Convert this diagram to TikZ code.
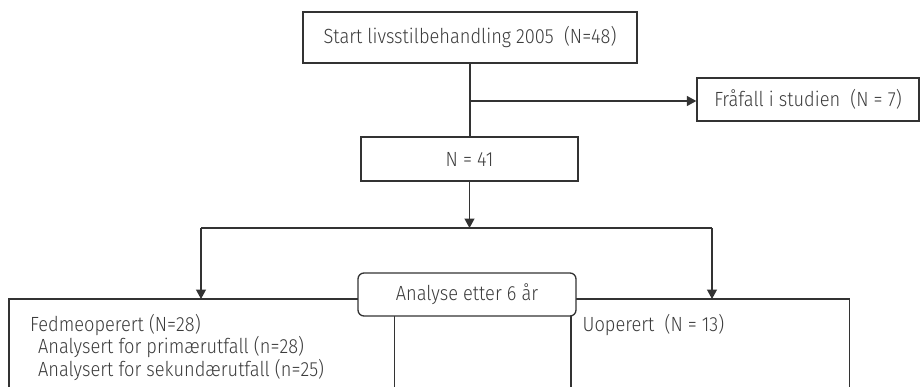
\documentclass[tikz,border=0pt]{standalone}
\usepackage{fontspec}
\setmainfont{Fira Sans Light}[FakeStretch=0.89]
\usetikzlibrary{arrows.meta}
\definecolor{ink}{HTML}{333333}
\definecolor{txt}{HTML}{3C3C3C}
\begin{document}
\begin{tikzpicture}[x=1pt,y=-1pt,
  line width=1.3pt, draw=ink,
  box/.style={draw=ink, line width=1.3pt, inner sep=0pt, text=txt, font=\fontsize{20.5}{24}\selectfont},
  frame/.style={draw=none, inner sep=0pt, anchor=north west},
  lbl/.style={inner sep=0pt, anchor=base west, text=txt, font=\fontsize{20.5}{24}\selectfont},
  arr/.style={draw=ink, line width=1.3pt, -{Triangle[length=9.5pt,width=10pt]}}]
\useasboundingbox (0,0) rectangle (922,386);
\fill[white] (0,0) rectangle (922,386);
% top boxes
\node[box, minimum width=334pt, minimum height=51pt] (start) at (470,37.5) {Start livsstilbehandling 2005\ \ (N=48)};
\node[box, minimum width=222pt, minimum height=43pt] (fra) at (808,99.5) {Fråfall i studien\ \ (N = 7)};
\node[box, minimum width=217pt, minimum height=44pt] (n41) at (469.5,159) {N = 41};
% open bottom boxes
\node[frame, minimum width=384pt, minimum height=87pt] (lbox) at (9,299) {};
\node[frame, minimum width=277pt, minimum height=87pt] (rbox) at (571,299) {};
\draw[ink] (lbox.south west) -- (lbox.north west) -- (lbox.north east) -- (lbox.south east);
\draw[ink] (rbox.south west) -- (rbox.north west) -- (rbox.north east) -- (rbox.south east);
% analyse box
\node[box, fill=white, rounded corners=6pt, minimum width=218pt, minimum height=43pt] (ana) at (467,294.5) {Analyse etter 6 år};
% texts
\node[lbl] (l1) at (29.5,331.5) {Fedmeoperert (N=28)};
\node[lbl] (l2) at (37.5,353) {Analysert for primærutfall (n=28)};
\node[lbl] (l3) at (37.5,376.5) {Analysert for sekundærutfall (n=25)};
\node[lbl] (r1) at (582,331.5) {Uoperert\ \ (N = 13)};
% connectors
\coordinate (split) at (470,101);
\coordinate (fork) at (470,228);
\coordinate (lk) at (201,228);
\coordinate (rk) at (712,228);
\draw[ink] (start.south) -- (start.south |- n41.north);
\draw[arr] (split) -- (fra.west |- split);
\draw[arr] (n41.south) -- (n41.south |- fork);
\draw[ink] (lk) -- (rk);
\draw[arr] (lk) -- (lk |- lbox.north);
\draw[arr] (rk) -- (rk |- rbox.north);
\end{tikzpicture}
\end{document}
